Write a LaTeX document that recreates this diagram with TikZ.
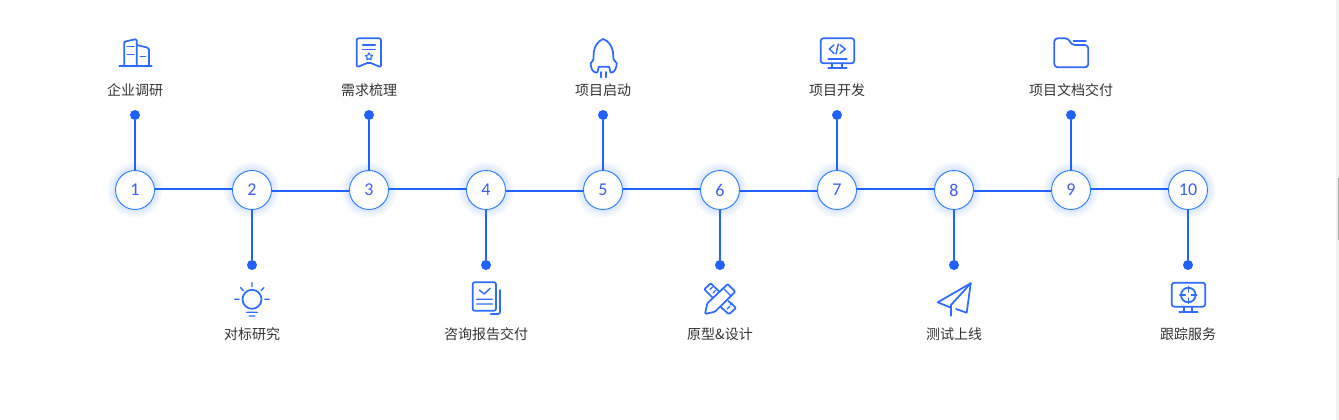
\documentclass[tikz,border=0pt]{standalone}
\usepackage{fontspec}
\setmainfont{Noto Sans CJK SC}
\newfontfamily\numfont{Carlito}
\definecolor{lineblue}{HTML}{1F62FF}
\definecolor{ringblue}{HTML}{2A7DFF}
\definecolor{iconblue}{HTML}{2F6BFF}
\definecolor{numblue}{HTML}{3F5FEA}
\definecolor{labelgrey}{HTML}{333333}
\tikzset{
  stepnode/.style={circle,draw=ringblue,line width=0.7pt,fill=white,minimum size=29.25pt,inner sep=0pt,text=numblue,font=\numfont\fontsize{13.5}{14}\selectfont},
  enddot/.style={circle,fill=lineblue,minimum size=7.5pt,inner sep=0pt},
  linkline/.style={draw=lineblue,line width=1.6pt},
  caption/.style={text=labelgrey,font=\fontsize{10.5}{12}\selectfont,inner sep=0pt},
  icon/.style={draw=iconblue,line width=1.3pt,line join=round,line cap=round},
  thinicon/.style={draw=iconblue,line width=1.05pt,line join=round,line cap=round}
}
\begin{document}
\begin{tikzpicture}[x=0.75pt,y=-0.75pt]
\useasboundingbox (0,0) rectangle (1339,420);
\fill[white] (0,0) rectangle (1339,420);
\fill[black!6] (1336,0) rectangle (1339,420);
\fill[black!32] (1338,178) rectangle (1339,240);
% glow
\foreach \px in {135,252,369,486,603,720,837,954,1071,1188}{
  \foreach \rr in {28,27,26,25,24,23,22,21}{
    \fill[ringblue,opacity=0.018] (\px,190) circle[radius=\rr];
  }
}
% nodes
\node[stepnode] (n1) at (135,190) {\raisebox{-0.6pt}{1}};
\node[stepnode] (n2) at (252,190) {\raisebox{-0.6pt}{2}};
\node[stepnode] (n3) at (369,190) {\raisebox{-0.6pt}{3}};
\node[stepnode] (n4) at (486,190) {\raisebox{-0.6pt}{4}};
\node[stepnode] (n5) at (603,190) {\raisebox{-0.6pt}{5}};
\node[stepnode] (n6) at (720,190) {\raisebox{-0.6pt}{6}};
\node[stepnode] (n7) at (837,190) {\raisebox{-0.6pt}{7}};
\node[stepnode] (n8) at (954,190) {\raisebox{-0.6pt}{8}};
\node[stepnode] (n9) at (1071,190) {\raisebox{-0.6pt}{9}};
\node[stepnode] (n10) at (1188,190) {\raisebox{-0.6pt}{10}};
\node[enddot] (d1) at (135,115) {};
\node[enddot] (d3) at (369,115) {};
\node[enddot] (d5) at (603,115) {};
\node[enddot] (d7) at (837,115) {};
\node[enddot] (d9) at (1071,115) {};
\node[enddot] (d2) at (252,265) {};
\node[enddot] (d4) at (486,265) {};
\node[enddot] (d6) at (720,265) {};
\node[enddot] (d8) at (954,265) {};
\node[enddot] (d10) at (1188,265) {};
% connectors
\foreach \a/\b in {1/2,3/4,5/6,7/8,9/10}{
  \draw[linkline] ([yshift=0.75pt]n\a.east) -- ([yshift=0.75pt]n\b.west);
}
\foreach \a/\b in {2/3,4/5,6/7,8/9}{
  \draw[linkline] ([yshift=-0.75pt]n\a.east) -- ([yshift=-0.75pt]n\b.west);
}
\foreach \a in {1,3,5,7,9}{\draw[linkline] (d\a) -- (n\a.north);}
\foreach \a in {2,4,6,8,10}{\draw[linkline] (n\a.south) -- (d\a);}
% labels
\node[caption] (t1) at (135,90) {企业调研};
\node[caption] (t3) at (369,90) {需求梳理};
\node[caption] (t5) at (603,90) {项目启动};
\node[caption] (t7) at (837,90) {项目开发};
\node[caption] (t9) at (1071,90) {项目文档交付};
\node[caption] (t2) at (252,334) {对标研究};
\node[caption] (t4) at (486,334) {咨询报告交付};
\node[caption] (t6) at (720,334) {原型\&设计};
\node[caption] (t8) at (954,334) {测试上线};
\node[caption] (t10) at (1188,334) {跟踪服务};
% icon 1: buildings
\draw[icon] (124.3,65) -- (124.3,42) [rounded corners=1pt] -- (124.3,41.7) -- (136.7,39) -- (136.7,65);
\draw[icon] (136.7,45) -- (147,47.5) -- (149,49.3) -- (149,65);
\draw[icon] (119.3,66) -- (151.7,66);
\draw[thinicon] (127,46.7) -- (134,46.7) (127,54.7) -- (134,54.7) (140.3,56.7) -- (145.5,56.7);
% icon 3: badge
\draw[icon,rounded corners=1.5pt] (356.7,38.3) -- (381,38.3) -- (381,67.3) -- (369,62.3) -- (356.7,67.3) -- cycle;
\draw[thinicon] (362.7,45) -- (375.3,45) (362.7,49.3) -- (375.3,49.3);
\draw[thinicon,line width=0.8pt] (369,52.9) -- (370.2,55.1) -- (372.6,55.5) -- (370.9,57.3) -- (371.2,59.8) -- (369,58.7) -- (366.8,59.8) -- (367.1,57.3) -- (365.4,55.5) -- (367.8,55.1) -- cycle;
% icon 5: rocket
\draw[icon] (603.3,39) .. controls (598,41) and (594.5,46) .. (593.8,52) -- (593.3,60) -- (590.7,63.3) .. controls (590.7,67) and (592,72.7) .. (596.7,72.7) .. controls (598,72.7) and (598,68) .. (599,66.7) -- (609,66.7) .. controls (610,68) and (610,72.7) .. (611,72.7) .. controls (615,72.7) and (616.7,67) .. (616.7,63.3) -- (613.5,59.3) -- (613,52) .. controls (612,46) and (608.5,41) .. (603.3,39) -- cycle;
\draw[icon] (600.7,72) -- (600.7,77.3) (605.7,72) -- (605.7,77.3);
% icon 7: code monitor
\draw[icon,rounded corners=2pt] (820.7,38.3) rectangle (854.3,63.3);
\draw[thinicon] (834,45) -- (829.3,49) -- (834,53.3) (840,45) -- (845.3,49) -- (840,53.3) (838.3,44) -- (836,54);
\draw[icon] (828.3,59) -- (846.7,59) (831.7,63.3) -- (831.7,68) (841.7,63.3) -- (841.7,68) (828.3,68) -- (846.7,68);
% icon 9: folder
\draw[icon,rounded corners=2.5pt] (1054.3,38.3) -- (1068.3,38.3) -- (1071.7,45) -- (1088.3,45) -- (1088.3,67.3) -- (1054.3,67.3) -- cycle;
\draw[thinicon] (1073.3,41) -- (1086,41);
% icon 2: bulb
\draw[icon] (252,299.3) circle[radius=9.5];
\draw[thinicon] (252,282.5) -- (252,286.7) (234.5,299.3) -- (239,299.3) (264.8,299.3) -- (269.3,299.3) (240.7,287.7) -- (243.3,290.7) (264,287.7) -- (261,290.7) (246.7,312.3) -- (257.3,312.3) (249,316) -- (255,316);
% icon 4: document
\draw[icon,rounded corners=1.5pt] (472.7,282.3) rectangle (496,310.7);
\draw[thinicon] (479.3,290) -- (484.3,294) -- (490,288.3) (476.7,299.3) -- (492.3,299.3) (476.7,304) -- (492.3,304);
\draw[icon,rounded corners=1.5pt] (500,290) -- (500,314) -- (490.7,314);
% icon 6: pencil and ruler
\draw[icon,rounded corners=0.8pt] (707.3,303.3) -- (727.7,284) -- (735.3,291.7) -- (715,311.7) -- (705,314) -- cycle;
\draw[thinicon] (723.3,288.3) -- (731,296);
\draw[icon,rounded corners=0.8pt] (719.3,291.7) -- (710.7,283.3) -- (704.3,289.3) -- (712.7,297.7);
\draw[icon,rounded corners=0.8pt] (728.3,301) -- (736,307.9) -- (729,314.3) -- (721,307.3);
\draw[thinicon] (710,289.5) -- (712.5,287) (713,293) -- (715.5,290.5) (727,309) -- (729.8,306.3) (730.3,304.6) -- (732,303.2);
% icon 8: paper plane
\draw[icon] (970.7,283.3) -- (937.7,302.3) -- (950.5,307.5);
\draw[icon] (970.7,283.3) -- (966.7,312.7) -- (956,309);
\draw[icon] (970.7,283.3) -- (951,305) -- (951,315.7);
% icon 10: target monitor
\draw[icon,rounded corners=2pt] (1171.7,282.7) rectangle (1205.3,306.7);
\draw[icon] (1188.3,295) circle[radius=7.3];
\draw[thinicon] (1188.3,286.5) -- (1188.3,292) (1188.3,298) -- (1188.3,303.5) (1179.8,295) -- (1185.3,295) (1191.3,295) -- (1196.8,295);
\draw[icon] (1184.3,306.7) -- (1184.3,312) (1192.3,306.7) -- (1192.3,312) (1179.3,312) -- (1197.7,312);
\end{tikzpicture}
\end{document}
